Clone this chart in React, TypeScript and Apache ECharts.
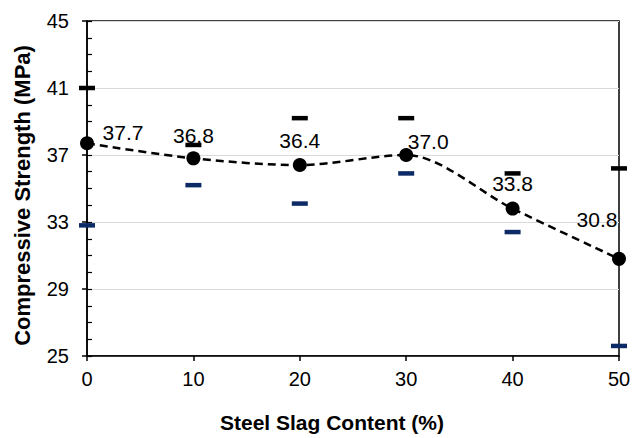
import React, { useEffect, useRef } from "react";
import * as echarts from "echarts";

const slagContent = [0, 10, 20, 30, 40, 50];
const meanStrength = [37.7, 36.8, 36.4, 37.0, 33.8, 30.8];
const maxStrength = [41.0, 37.6, 39.2, 39.2, 35.9, 36.2];
const minStrength = [32.8, 35.2, 34.1, 35.9, 32.4, 25.6];
const meanLabels = ["37.7", "36.8", "36.4", "37.0", "33.8", "30.8"];
const labelOffsets = [
  [36, -11],
  [0, -23],
  [0, -25],
  [22, -14],
  [0, -25],
  [-22, -39],
];

const FONT = "'Liberation Sans', Arial, sans-serif";

export default function App() {
  const ref = useRef<HTMLDivElement>(null);
  useEffect(() => {
    if (!ref.current) return;
    const chart = echarts.init(ref.current, undefined, { renderer: "svg" });
    chart.setOption({
      animation: false,
      backgroundColor: "#ffffff",
      textStyle: { fontFamily: FONT },
      grid: {
        left: 87,
        right: 21,
        top: 21,
        bottom: 80,
        show: true,
        borderColor: "#000",
        borderWidth: 1.5,
        backgroundColor: "transparent",
      },
      xAxis: {
        type: "value",
        min: 0,
        max: 50,
        interval: 10,
        name: "Steel Slag Content (%)",
        nameLocation: "middle",
        nameGap: 56,
        nameTextStyle: {
          fontFamily: FONT,
          fontSize: 21,
          fontWeight: "bold",
          color: "#000",
          padding: [0, 42, 0, 0],
        },
        axisLine: { lineStyle: { color: "#000", width: 1.5 } },
        axisTick: { show: true, length: 5, lineStyle: { color: "#000", width: 1.5 } },
        axisLabel: { fontFamily: FONT, fontSize: 20, color: "#000", margin: 13 },
        splitLine: { show: false },
      },
      yAxis: [
        {
          type: "value",
          min: 25,
          max: 45,
          interval: 4,
          position: "left",
          name: "Compressive Strength (MPa)",
          nameLocation: "middle",
          nameGap: 54,
          nameTextStyle: {
            fontFamily: FONT,
            fontSize: 22,
            fontWeight: "bold",
            color: "#000",
            padding: [0, 14, 0, 0],
          },
          axisLine: { show: true, lineStyle: { color: "#000", width: 1.5 } },
          axisTick: { show: true, length: 5, lineStyle: { color: "#000", width: 1.5 } },
          axisLabel: { fontFamily: FONT, fontSize: 20, color: "#000", margin: 18 },
          splitLine: { show: true, lineStyle: { color: "#d9d9d9", width: 1.2 } },
        },
        {
          type: "value",
          min: 25,
          max: 45,
          interval: 1,
          position: "left",
          axisLine: { show: false },
          axisTick: { show: true, inside: true, length: 5, lineStyle: { color: "#000", width: 1.2 } },
          axisLabel: { show: false },
          splitLine: { show: false },
        },
      ],
      series: [
        {
          type: "scatter",
          name: "Max",
          yAxisIndex: 0,
          symbol: "rect",
          symbolSize: [16, 4.5],
          itemStyle: { color: "#000", opacity: 1 },
          data: slagContent.map((x, i) => [x, maxStrength[i]]),
          z: 3,
        },
        {
          type: "scatter",
          name: "Min",
          yAxisIndex: 0,
          symbol: "rect",
          symbolSize: [16, 4.5],
          itemStyle: { color: "#0b2a66", opacity: 1 },
          data: slagContent.map((x, i) => [x, minStrength[i]]),
          z: 3,
        },
        {
          type: "line",
          name: "Mean",
          yAxisIndex: 0,
          smooth: 0.3,
          symbol: "circle",
          symbolSize: 14,
          showAllSymbol: true,
          itemStyle: { color: "#000", opacity: 1 },
          lineStyle: { color: "#000", width: 2.5, type: [8, 5] },
          z: 4,
          data: slagContent.map((x, i) => ({
            value: [x, meanStrength[i]],
            label: {
              show: true,
              position: "inside",
              offset: labelOffsets[i],
              formatter: meanLabels[i],
              fontFamily: FONT,
              fontSize: 21,
              color: "#000",
              align: "center",
              verticalAlign: "middle",
            },
          })),
        },
      ],
    });
    return () => chart.dispose();
  }, []);
  return (
    <div
      ref={ref}
      style={{ position: "fixed", left: 0, top: 0, width: 640, height: 438 }}
    />
  );
}
